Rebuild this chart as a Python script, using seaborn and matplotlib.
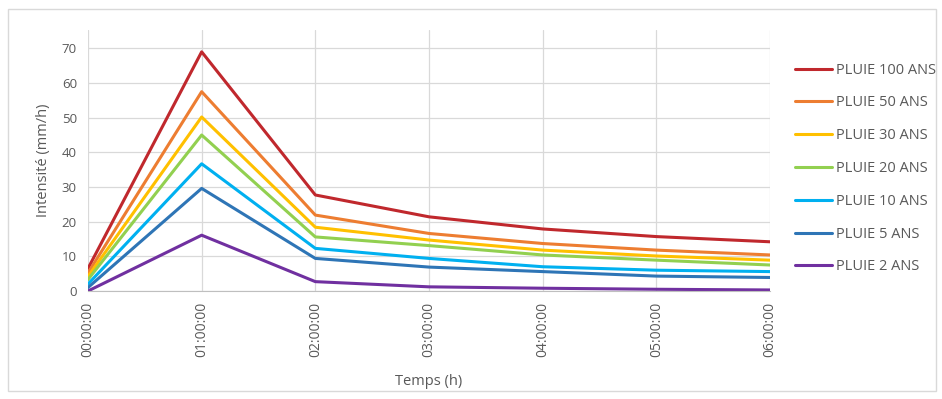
import pandas as pd
import seaborn as sns
import matplotlib.pyplot as plt
from matplotlib.patches import Rectangle

# time steps (hours) and their labels
heures = [0, 1, 2, 3, 4, 5, 6]
etiquettes = ["00:00:00", "01:00:00", "02:00:00", "03:00:00", "04:00:00", "05:00:00", "06:00:00"]

# intensities (mm/h)
pluie_100 = [6.5, 69.0, 27.7, 21.4, 17.9, 15.7, 14.2]
pluie_50 = [5.2, 57.5, 21.9, 16.6, 13.7, 11.8, 10.4]
pluie_30 = [4.2, 50.2, 18.4, 14.7, 11.8, 10.1, 8.9]
pluie_20 = [3.3, 45.0, 15.6, 13.1, 10.4, 8.9, 7.5]
pluie_10 = [2.0, 36.7, 12.3, 9.4, 7.0, 6.0, 5.6]
pluie_5 = [1.0, 29.6, 9.4, 6.9, 5.6, 4.3, 3.9]
pluie_2 = [0.0, 16.1, 2.7, 1.2, 0.8, 0.5, 0.3]

series = ["PLUIE 100 ANS", "PLUIE 50 ANS", "PLUIE 30 ANS", "PLUIE 20 ANS",
          "PLUIE 10 ANS", "PLUIE 5 ANS", "PLUIE 2 ANS"]
valeurs = [pluie_100, pluie_50, pluie_30, pluie_20, pluie_10, pluie_5, pluie_2]
couleurs = ["#C0282D", "#ED7D31", "#FFC000", "#92D050", "#00B0F0", "#2E75B6", "#7030A0"]

rows = []
for nom, vals in zip(series, valeurs):
    for h, v in zip(heures, vals):
        rows.append({"heure": h, "intensite": v, "serie": nom})
df = pd.DataFrame(rows)

sns.set_style("white")
plt.rcParams['font.family'] = ['Open Sans', 'DejaVu Sans']

fig = plt.figure(figsize=(9.42, 3.99), dpi=100)
ax = fig.add_axes([88 / 942, 108 / 399, 682 / 942, 261 / 399])

sns.lineplot(data=df, x="heure", y="intensite", hue="serie", hue_order=series,
             palette=couleurs, linewidth=2.2, ax=ax)

ax.set_xlim(0, 6)
ax.set_ylim(0, 75.3)
ax.set_yticks(range(0, 80, 10))
ax.set_xticks(heures)
ax.set_xticklabels(etiquettes, rotation=90)
ax.tick_params(axis="both", labelsize=9.5, colors="#595959", length=0, pad=8)
ax.tick_params(axis="x", labelsize=10)
ax.grid(True, color="#D9D9D9", linewidth=0.9)
ax.set_axisbelow(True)
for s in ["top", "right", "left"]:
    ax.spines[s].set_visible(False)
ax.spines["bottom"].set_color("#BFBFBF")

ax.set_xlabel("Temps (h)", fontsize=10.5, color="#595959", labelpad=12)
ax.set_ylabel("Intensité (mm/h)", fontsize=10.5, color="#595959", labelpad=8)

leg = ax.legend(loc="upper left", bbox_to_anchor=(1.018, 0.925), frameon=False,
                fontsize=10.5, labelspacing=1.22, handlelength=2.5, handletextpad=0.3)
for t in leg.get_texts():
    t.set_color("#595959")

# light frame around the whole chart
fig.patches.append(Rectangle((8 / 942, 8 / 399), 928 / 942, 382 / 399,
                             transform=fig.transFigure, fill=False,
                             edgecolor="#D9D9D9", linewidth=1))

fig.savefig("out.png", dpi=100)
